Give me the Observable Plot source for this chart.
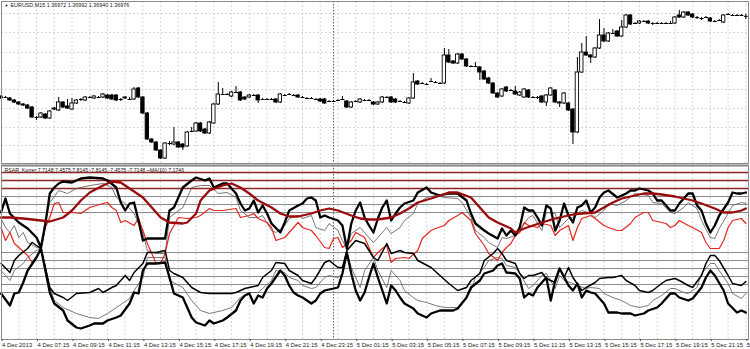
<!DOCTYPE html>
<html><head><meta charset="utf-8">
<script src="https://cdn.jsdelivr.net/npm/d3@7"></script>
<script src="https://cdn.jsdelivr.net/npm/@observablehq/plot@0.6"></script>
<style>
html,body{margin:0;padding:0;background:#fff;overflow:hidden;}
#chart{width:750px;height:349px;}
#chart svg{display:block;}
</style></head><body><div id="chart"></div>
<script>
// EURUSD M15 candles, price x 10^4, one bar per 15 minutes starting 4 Dec 2013 05:15
const priceOpen = [
13617,13616,13615,13613,13611,13609,13608,13606,13596,13596,
13599,13595,13604,13603,13611,13607,13604,13610,13614,13613,
13616,13615,13616,13616,13618,13618,13618,13614,13615,13614,
13614,13625,13616,13600,13574,13571,13563,13555,13570,13569,
13571,13569,13567,13582,13582,13590,13584,13580,13590,13609,
13619,13619,13617,13621,13621,13616,13616,13618,13618,13614,
13614,13614,13614,13611,13618,13619,13618,13618,13616,13615,
13615,13614,13614,13614,13612,13612,13613,13614,13612,13606,
13612,13611,13613,13613,13611,13609,13611,13616,13616,13614,
13612,13611,13610,13615,13632,13630,13629,13632,13631,13630,
13630,13658,13652,13650,13659,13654,13647,13647,13646,13642,
13635,13630,13620,13617,13626,13623,13622,13618,13616,13623,
13616,13616,13617,13611,13618,13623,13611,13610,13610,13604,
13581,13641,13661,13658,13656,13665,13678,13672,13680,13682,
13677,13686,13698,13690,13690,13692,13692,13690,13690,13690,
13690,13690,13690,13698,13696,13701,13699,13696,13695,13696,
13695,13692,13693,13691,13699,13698,13698,13698,13697.2];
const priceHigh = [
13618,13617,13616,13614,13612,13610,13609,13607,13597,13601,
13600,13603,13606,13616,13612,13614,13615,13614,13615,13617,
13617,13618,13617,13620,13619,13619,13619,13615,13617,13616,
13626,13626,13617,13601,13575,13572,13564,13571,13572,13586,
13572,13570,13582,13586,13591,13591,13585,13592,13610,13631,
13625,13620,13622,13627,13622,13617,13619,13619,13619,13615,
13615,13615,13615,13620,13619,13620,13619,13619,13617,13616,
13616,13615,13615,13615,13613,13613,13614,13617,13613,13612,
13613,13615,13614,13614,13612,13612,13617,13617,13617,13615,
13613,13612,13616,13640,13633,13631,13630,13635,13632,13631,
13665,13664,13653,13660,13660,13655,13648,13651,13647,13643,
13636,13631,13621,13625,13627,13624,13627,13622,13625,13624,
13617,13617,13618,13619,13626,13624,13612,13621,13611,13605,
13656,13670,13677,13659,13666,13694,13685,13681,13684,13683,
13693,13699,13699,13691,13693,13693,13693,13691,13691,13691,
13691,13692,13697,13703,13702,13702,13700,13697,13696,13697,
13696,13693,13694,13699,13700,13699,13699,13699,13699.2];
const priceLow = [
13614,13615,13612,13610,13608,13607,13604,13595,13593,13595,
13594,13594,13603,13602,13605,13604,13603,13609,13612,13612,
13615,13614,13615,13615,13614,13613,13612,13612,13614,13613,
13613,13615,13599,13573,13570,13562,13554,13554,13568,13568,
13565,13563,13566,13581,13581,13581,13579,13579,13589,13608,
13618,13618,13616,13620,13612,13613,13615,13617,13610,13613,
13613,13613,13610,13610,13617,13618,13617,13615,13615,13614,
13614,13613,13611,13609,13611,13611,13612,13613,13605,13605,
13611,13610,13612,13612,13608,13608,13610,13615,13610,13610,
13611,13610,13609,13614,13628,13629,13628,13631,13630,13629,
13629,13650,13649,13649,13653,13646,13646,13646,13633,13633,
13629,13619,13615,13616,13621,13622,13618,13617,13615,13615,
13615,13614,13610,13607,13617,13610,13606,13609,13602,13569,
13580,13640,13657,13650,13655,13664,13671,13671,13679,13676,
13676,13685,13688,13689,13689,13691,13689,13688,13689,13689,
13689,13689,13689,13695,13695,13697,13695,13694,13693,13695,
13691,13691,13692,13690,13698,13697,13697,13697,13694];
const priceClose = [
13615,13616,13613,13611,13609,13608,13605,13596,13596,13600,
13595,13602,13605,13611,13606,13605,13610,13613,13614,13616,
13616,13617,13616,13619,13615,13614,13613,13614,13616,13614,
13624,13616,13600,13574,13571,13563,13555,13570,13570,13571,
13566,13566,13581,13582,13590,13582,13580,13591,13609,13619,
13619,13619,13621,13621,13613,13614,13618,13618,13613,13614,
13614,13614,13611,13619,13618,13619,13618,13616,13616,13615,
13615,13614,13612,13610,13612,13612,13613,13614,13606,13611,
13612,13614,13613,13613,13609,13611,13616,13616,13611,13611,
13612,13611,13615,13631,13629,13630,13629,13632,13631,13630,
13658,13651,13650,13659,13654,13647,13647,13647,13641,13634,
13630,13620,13616,13624,13622,13623,13619,13621,13624,13616,
13616,13616,13611,13618,13625,13611,13610,13620,13603,13581,
13641,13661,13658,13656,13665,13678,13672,13680,13680,13677,
13686,13698,13689,13690,13692,13692,13690,13690,13690,13690,
13690,13690,13696,13696,13701,13698,13696,13696,13695,13696,
13692,13692,13693,13698,13699,13698,13698,13698,13697.6];
const priceGrid = [1.3700, 1.3681, 1.3661, 1.3642, 1.3624, 1.3605, 1.3586, 1.3568];
const symbolName = "EURUSD,M15";
const lastQuote = ["1.36972", "1.36992", "1.36940", "1.36976"];

// time axis labels, every 8 bars (2 hours)
const timeLabels = ["4 Dec 2013","4 Dec 07:15","4 Dec 09:15","4 Dec 11:15","4 Dec 13:15","4 Dec 15:15","4 Dec 17:15",
"4 Dec 19:15","4 Dec 21:15","4 Dec 23:15","5 Dec 01:15","5 Dec 03:15","5 Dec 05:15","5 Dec 07:15","5 Dec 09:15",
"5 Dec 11:15","5 Dec 13:15","5 Dec 15:15","5 Dec 17:15","5 Dec 19:15","5 Dec 21:15","5 Dec 23:15"];
const daySeparatorBar = [75];

// indicator: [bar, value]
const indLabel = "RSAR_Korrer 7.7148 7.4575 7.8145 -7.8145 -7.4575 -7.7148 ~MA(10) 7.1746";
const levelsRed = [80, 72, 64];
const levelsGrey = [56, 48, 40, 0, -8, -16, -24, -32, -40];
const upperThick = [[0,40],[1,54],[2,39],[4,30],[6,24],[8,15],[9,5],[10,29],[11,59],[12,65],[13,69],[14,71],[16,70],[18,74],[20,75],[23,74],[24,72],[26,65],[27,50],[28,42],[29,49],[30,50],[31,32],[32,12],[33,14],[35,14],[37,14],[38,42],[39,45],[41,65],[43,72],[44,75],[46,72],[47,74],[48,65],[50,69],[51,69],[53,59],[54,49],[55,42],[56,44],
[57,52],[58,40],[59,47],[60,39],[61,29],[63,20],[64,30],[65,42],[67,47],[68,49],[69,54],[70,55],[71,52],[72,35],[73,37],[74,35],[76,32],[77,27],[78,4],[79,29],[80,42],[81,50],[82,35],[83,27],[84,20],[85,34],[86,45],[87,52],[88,32],[89,39],[90,45],[91,49],[93,52],[94,60],[96,65],[97,60],[99,57],[101,59],[103,59],[105,52],[106,39],[107,29],[109,22],[110,19],[112,14],
[113,24],[114,17],[115,22],[116,17],[117,25],[118,45],[119,42],[120,42],[121,35],[122,27],[123,47],[124,44],[125,22],[126,32],[127,49],[128,37],[129,30],[130,45],[131,47],[132,52],[133,40],[134,45],[135,55],[136,60],[137,62],[139,55],[140,57],[141,59],[142,62],[143,62],[144,64],[146,62],[147,59],[148,52],[149,52],[151,42],[152,42],[153,49],[155,59],[156,59],[157,47],[158,42],[159,29],[160,20],[161,27],[162,37],[164,50],[165,60],[166,59],[167,59],[168,60]];
const upperThin = [[0,34],[1,25],[2,20],[3,27],[4,15],[5,20],[6,10],[8,5],[9,4],[10,32],[11,50],[13,62],[15,59],[17,64],[20,67],[23,69],[25,65],[26,55],[28,49],[30,39],[32,19],[33,2],[35,-1],[37,-1],[38,35],[41,45],[43,65],[45,67],[47,67],[49,59],[51,60],[53,55],[54,42],[56,35],
[58,35],[59,37],[61,22],[62,20],[64,27],[65,34],[67,37],[68,34],[70,37],[71,25],[73,22],[74,29],[76,22],[77,12],[78,4],[79,19],[81,25],[82,20],[84,10],[85,15],[87,25],[88,19],[90,25],[91,32],[93,39],[94,49],[96,55],[98,57],[100,55],[103,54],[104,50],[106,35],[107,22],[109,15],[110,10],[112,5],
[113,15],[114,14],[116,17],[117,22],[119,35],[120,37],[122,22],[123,40],[125,39],[126,25],[128,34],[129,35],[130,39],[131,42],[133,39],[134,35],[136,42],[137,49],[139,47],[141,52],[143,59],[146,57],[147,50],[149,49],[151,40],[152,39],[154,45],[155,50],[157,44],[158,32],[160,15],[161,14],[162,24],[164,39],[165,47],[167,50],[168,49]];
const upperRed = [[0,25],[1,12],[2,20],[3,9],[6,-3],[7,-10],[9,2],[10,25],[11,35],[12,49],[13,50],[14,40],[16,40],[18,39],[20,45],[23,49],[24,50],[25,45],[26,42],[27,30],[28,32],[30,27],[31,34],[32,22],[33,9],[35,-11],[36,-11],[37,-1],[38,19],[40,35],[42,34],[44,35],[45,37],[47,44],[48,42],[50,42],[53,44],[54,35],[56,37],
[57,39],[58,34],[60,30],[61,25],[62,12],[64,15],[65,20],[66,25],[67,30],[68,25],[70,22],[71,17],[73,5],[74,4],[75,14],[76,15],[77,5],[79,12],[80,20],[82,15],[83,5],[84,-5],[85,0],[86,4],[87,7],[88,-10],[89,-6],[91,-5],[92,-6],[94,2],[95,14],[97,22],[98,24],[100,27],[101,32],[103,37],[104,40],[106,32],[107,19],[109,7],[110,-1],[112,-8],
[113,0],[114,5],[115,9],[116,17],[117,20],[118,30],[119,27],[121,25],[122,29],[124,27],[125,17],[126,22],[128,27],[129,12],[130,25],[131,34],[133,37],[134,34],[136,27],[137,25],[139,22],[140,22],[142,29],[143,35],[145,40],[146,40],[147,32],[149,30],[150,29],[151,25],[152,27],[153,32],[155,27],[156,25],[158,20],[159,10],[160,4],[162,4],[163,12],[164,25],[165,32],[167,34],[168,29]];
const lowerThick = [[0,-41],[2,-53],[3,-41],[4,-40],[5,-30],[6,-18],[8,-5],[9,4],[10,-18],[11,-40],[12,-51],[14,-58],[15,-68],[17,-75],[18,-76],[20,-73],[21,-71],[23,-71],[24,-68],[26,-65],[27,-63],[29,-51],[30,-40],[31,-41],[32,-18],[33,-11],[35,-11],[37,-10],[38,-25],[39,-41],[41,-45],[42,-55],[43,-65],[44,-70],[46,-73],[47,-68],[48,-71],[50,-68],[51,-65],[53,-58],[54,-48],[55,-43],[56,-41],
[57,-51],[58,-43],[59,-45],[60,-36],[61,-31],[63,-18],[64,-23],[65,-33],[66,-40],[67,-43],[68,-45],[70,-51],[71,-48],[72,-41],[73,-38],[75,-36],[76,-35],[77,-21],[78,0],[79,-21],[80,-38],[81,-48],[82,-40],[83,-25],[84,-11],[85,-25],[86,-38],[87,-51],[88,-33],[89,-38],[90,-45],[91,-51],[93,-56],[94,-61],[96,-65],[97,-61],[99,-58],[100,-58],[102,-58],[103,-56],[105,-45],[106,-35],[108,-28],[109,-21],[111,-18],[112,-13],
[113,-11],[114,-20],[116,-21],[117,-26],[118,-45],[119,-41],[120,-43],[121,-35],[123,-25],[124,-48],[125,-28],[126,-16],[128,-33],[129,-38],[130,-31],[131,-45],[132,-38],[133,-40],[134,-41],[136,-51],[137,-60],[139,-60],[140,-61],[142,-61],[143,-63],[145,-61],[146,-58],[148,-55],[149,-51],[151,-41],[152,-41],[153,-45],[155,-48],[156,-46],[158,-35],[159,-25],[160,-18],[161,-23],[163,-38],[164,-51],[166,-60],[167,-58],[168,-60]];
const lowerMid = [[0,-11],[2,-20],[3,-8],[4,-3],[6,4],[7,10],[9,4],[10,-15],[11,-35],[12,-41],[14,-45],[15,-48],[17,-41],[20,-40],[22,-36],[23,-40],[25,-35],[26,-33],[28,-23],[29,-28],[30,-20],[32,-11],[33,0],[35,0],[37,2],[38,-18],[39,-21],[41,-25],[43,-35],[45,-40],[47,-41],[50,-41],[52,-41],[53,-40],[55,-36],[56,-35],
[58,-33],[59,-25],[61,-18],[62,-10],[64,-11],[65,-18],[67,-23],[68,-28],[70,-31],[71,-25],[73,-10],[74,-8],[76,-15],[77,-15],[78,2],[80,12],[82,9],[83,2],[84,-5],[85,-8],[87,9],[88,-1],[90,2],[91,0],[93,-1],[94,-8],[97,-15],[99,-23],[101,-31],[103,-38],[105,-35],[106,-28],[108,-21],[109,-8],[111,-1],[112,4],
[113,-1],[114,-8],[116,-11],[117,-21],[118,-26],[119,-23],[120,-23],[122,-20],[123,-26],[125,-30],[126,-16],[127,-25],[128,-15],[129,-25],[131,-38],[132,-35],[134,-30],[135,-26],[137,-25],[138,-25],[140,-23],[141,-28],[143,-33],[144,-38],[146,-40],[147,-38],[149,-31],[150,-28],[152,-26],[153,-28],[155,-33],[156,-35],[158,-23],[159,-11],[160,-3],[161,-3],[162,-8],[164,-23],[165,-31],[167,-33],[168,-29]];
const lowerThin = [[0,-18],[2,-28],[3,-18],[5,-11],[6,-5],[8,2],[9,4],[11,-35],[12,-48],[14,-55],[17,-61],[20,-65],[22,-66],[24,-61],[26,-55],[29,-46],[30,-38],[32,-25],[33,-5],[35,-5],[37,-5],[38,-28],[41,-35],[43,-48],[45,-58],[47,-61],[50,-58],[52,-55],[54,-45],[56,-40],
[58,-40],[59,-36],[61,-28],[62,-18],[64,-20],[65,-25],[67,-28],[68,-33],[70,-36],[71,-35],[73,-25],[74,-23],[76,-25],[77,-21],[78,0],[79,-15],[81,-35],[82,-18],[84,-5],[85,-18],[87,-35],[88,-18],[90,-28],[91,-38],[93,-45],[94,-48],[96,-50],[98,-53],[100,-55],[103,-55],[104,-51],[106,-38],[107,-25],[109,-15],[110,-8],[112,-5],
[113,-6],[114,-13],[116,-15],[117,-21],[119,-36],[120,-33],[122,-23],[123,-21],[125,-36],[126,-23],[127,-28],[129,-31],[130,-33],[132,-36],[133,-35],[135,-36],[136,-41],[138,-45],[140,-48],[142,-53],[144,-55],[146,-53],[147,-48],[149,-43],[151,-36],[152,-36],[154,-40],[155,-41],[157,-35],[158,-21],[160,-11],[161,-11],[162,-18],[164,-31],[165,-41],[167,-46],[168,-41]];
const movingAvg = [[0,35],[2,35],[5,34],[7,33],[9,32],[11,31],[14,35],[16,42],[18,52],[20,60],[23,67],[25,71],[27,70],[29,64],[32,55],[34,45],[36,35],[38,30],[41,29],[42,30],[44,39],[45,52],[47,62],[50,67],[52,69],[54,65],[56,59],
[58,52],[61,45],[63,39],[65,36],[67,36],[70,39],[72,42],[74,44],[76,42],[79,37],[81,34],[83,33],[85,33],[88,35],[90,39],[92,44],[94,50],[97,54],[99,57],[101,60],[103,60],[106,55],[108,45],[110,35],[112,30],
[115,24],[116,20],[118,24],[120,27],[122,30],[125,34],[127,36],[129,38],[131,39],[134,40],[136,45],[138,50],[140,54],[143,57],[145,59],[147,59],[149,58],[152,56],[154,54],[156,52],[158,49],[161,44],[163,40],[165,40],[167,42],[168,44]];

const bars = priceOpen.map((o, i) => ({i, o: o / 1e4, h: priceHigh[i] / 1e4, l: priceLow[i] / 1e4, c: priceClose[i] / 1e4}));
const bodies = bars.filter(d => Math.abs(d.c - d.o) >= 0.00005);
const dojis = bars.filter(d => Math.abs(d.c - d.o) < 0.00005);
const xDomain = [0.1, 168.6];
const font = "'Liberation Sans', Arial, sans-serif";
const hourGrid = d3.range(4, 169, 4);
const labelBars = timeLabels.map((_, k) => k * 8);
const gridStyle = {stroke: "#c6c6c6", strokeDasharray: "2,2", strokeWidth: 0.7};

const priceChart = Plot.plot({
  width: 750, height: 164,
  marginTop: 1, marginBottom: 1, marginLeft: 1, marginRight: 2,
  x: {domain: xDomain, axis: null},
  y: {domain: [1.3550, 1.3712], axis: null},
  style: {background: "#fff", fontFamily: font, overflow: "hidden"},
  marks: [
    Plot.ruleY(priceGrid, gridStyle),
    Plot.ruleX(hourGrid, gridStyle),
    Plot.ruleX(daySeparatorBar, {stroke: "#333", strokeDasharray: "1.5,1.5", strokeWidth: 0.8}),
    Plot.ruleX(bars, {x: "i", y1: "l", y2: "h", stroke: "#000", strokeWidth: 1}),
    Plot.rect(bodies, {x1: d => d.i - 0.38, x2: d => d.i + 0.38, y1: "o", y2: "c",
      fill: d => d.c > d.o ? "#fff" : "#000", stroke: "#000", strokeWidth: 0.9}),
    Plot.link(dojis, {x1: d => d.i - 0.45, x2: d => d.i + 0.45, y1: "o", y2: "o", stroke: "#000", strokeWidth: 1}),
    Plot.frame({stroke: "#8a8a8a", strokeWidth: 1}),
    Plot.text(["▼"], {frameAnchor: "top-left", dx: 3, dy: 2.5, lineAnchor: "top", textAnchor: "start", fontSize: 4, fill: "#111"}),
    Plot.text([symbolName + " " + lastQuote.join(" ")], {frameAnchor: "top-left", dx: 9, dy: 1.5, lineAnchor: "top", textAnchor: "start", fontSize: 5.4, fill: "#222"})
  ]
});

const line = (data, stroke, strokeWidth) => Plot.line(data, {x: d => d[0], y: d => d[1], stroke, strokeWidth});

const indChart = Plot.plot({
  width: 750, height: 185,
  marginTop: 1, marginBottom: 10, marginLeft: 1, marginRight: 2,
  x: {domain: xDomain},
  y: {domain: [-87, 87], axis: null},
  style: {background: "#fff", fontFamily: font, overflow: "hidden"},
  marks: [
    Plot.ruleX(hourGrid, gridStyle),
    Plot.ruleX(daySeparatorBar, {stroke: "#333", strokeDasharray: "1.5,1.5", strokeWidth: 0.8}),
    Plot.ruleY(levelsGrey, {stroke: "#8c8c8c", strokeWidth: 1}),
    Plot.ruleY(levelsRed, {stroke: "#8e2424", strokeWidth: 1.3}),
    line(upperThin, "#555", 0.8),
    line(lowerThin, "#555", 0.8),
    line(upperRed, "#e3261e", 1.2),
    line(lowerMid, "#000", 1.5),
    line(upperThick, "#000", 2.3),
    line(lowerThick, "#000", 2.3),
    line(movingAvg, "#9a0b0b", 2.3),
    Plot.ruleY([87], {stroke: "#7c7c7c", strokeWidth: 2}),
    Plot.frame({stroke: "#8a8a8a", strokeWidth: 1}),
    Plot.text([indLabel], {frameAnchor: "top-left", dx: 3, dy: 2.5, lineAnchor: "top", textAnchor: "start", fontSize: 5.2, fill: "#222"}),
    Plot.axisX(labelBars, {tickFormat: d => timeLabels[d / 8], fontSize: 5.9, textAnchor: "start", dx: 1, tickSize: 2, tickPadding: 1, stroke: "#555", fill: "#222"})
  ]
});

document.getElementById("chart").append(priceChart, indChart);
</script>
</body></html>
